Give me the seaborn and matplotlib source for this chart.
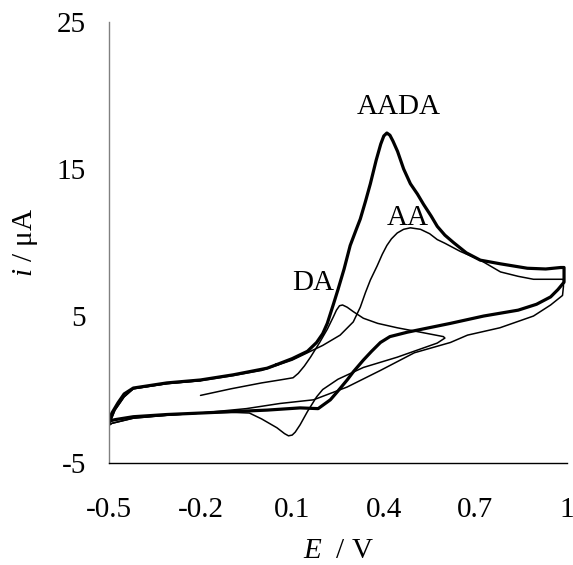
import matplotlib
matplotlib.use("Agg")
import matplotlib.pyplot as plt
import seaborn as sns
import pandas as pd

# ---- data ----
aada_E = [0.05, 0.10, 0.15, 0.18, 0.20, 0.215, 0.235, 0.25, 0.27, 0.29, 0.31, 0.323, 0.34, 0.356, 0.375,
          0.39, 0.40, 0.41, 0.42, 0.43, 0.445, 0.465, 0.487, 0.51, 0.53, 0.555, 0.575, 0.60, 0.628,
          0.67, 0.716, 0.782, 0.87, 0.93, 0.979, 0.99,
          0.99, 0.97, 0.946, 0.90, 0.84, 0.727, 0.618, 0.477, 0.42, 0.389, 0.36, 0.333, 0.30, 0.28,
          0.25, 0.225, 0.185, 0.126, 0.018,
          -0.093, -0.2, -0.31, -0.42, -0.48, -0.50, -0.49, -0.47, -0.45, -0.42, -0.31, -0.2, -0.093,
          0.018, 0.05]
aada_I = [1.7, 2.1, 2.6, 3.2, 3.8, 4.5, 5.8, 6.8, 8.2, 9.8, 10.9, 11.6, 12.8, 14.0, 15.6,
          16.7, 17.25, 17.45, 17.3, 16.9, 16.2, 15.0, 14.0, 13.3, 12.6, 11.8, 11.1, 10.5, 10.0,
          9.3, 8.8, 8.55, 8.25, 8.2, 8.3, 8.3,
          7.3, 6.8, 6.3, 5.8, 5.4, 5.0, 4.5, 3.9, 3.6, 3.2, 2.6, 2.0, 1.2, 0.65,
          -0.1, -0.7, -1.3, -1.25, -1.4,
          -1.5, -1.6, -1.7, -1.85, -2.05, -2.15, -1.6, -0.9, -0.3, 0.1, 0.45, 0.65, 1.0,
          1.45, 1.7]

aa_E = [0.0, 0.1, 0.15, 0.2, 0.257, 0.3, 0.323, 0.34, 0.356, 0.378, 0.395, 0.41, 0.425, 0.444, 0.465,
        0.487, 0.52, 0.55, 0.575, 0.60, 0.65, 0.716, 0.782, 0.84, 0.89, 0.95, 0.988,
        0.988, 0.985, 0.946, 0.89, 0.78, 0.674, 0.618, 0.5, 0.389, 0.28, 0.17, 0.06, -0.05,
        -0.2, -0.31, -0.42, -0.49, -0.50, -0.48, -0.45, -0.42, -0.31, -0.2, -0.093, 0.0]
aa_I = [1.3, 2.0, 2.5, 3.0, 3.7, 4.6, 5.6, 6.6, 7.45, 8.4, 9.2, 9.8, 10.25, 10.65, 10.9,
        11.0, 10.9, 10.6, 10.2, 9.95, 9.4, 8.8, 8.0, 7.7, 7.5, 7.5, 7.5,
        7.0, 6.4, 5.75, 5.0, 4.2, 3.7, 3.2, 2.5, 1.3, 0.17, -0.7, -0.95, -1.3,
        -1.6, -1.75, -1.95, -2.3, -2.4, -1.4, -0.5, 0.05, 0.4, 0.6, 0.95, 1.3]

da_E = [-0.2, -0.1, 0.0, 0.06, 0.103, 0.12, 0.14, 0.16, 0.19, 0.215, 0.235, 0.245, 0.255, 0.265, 0.28,
        0.30, 0.333, 0.38, 0.444, 0.52, 0.595,
        0.6, 0.575, 0.444, 0.333, 0.25, 0.2, 0.18, 0.15, 0.126, 0.11, 0.1, 0.088, 0.075, 0.05, 0.0,
        -0.04, -0.1, -0.2, -0.31, -0.42, -0.49, -0.50, -0.48, -0.45, -0.42, -0.31, -0.2]
da_I = [-0.4, 0.05, 0.45, 0.65, 0.8, 1.1, 1.6, 2.2, 3.2, 4.1, 4.95, 5.4, 5.7, 5.75, 5.6,
        5.3, 4.85, 4.5, 4.2, 3.9, 3.6,
        3.5, 3.16, 2.2, 1.5, 0.7, 0.0, -0.5, -1.5, -2.4, -2.9, -3.1, -3.15, -3.0, -2.6, -2.0,
        -1.6, -1.55, -1.6, -1.75, -1.95, -2.3, -2.45, -1.4, -0.5, 0.05, 0.4, 0.6]

x_ticks = [-0.5, -0.2, 0.1, 0.4, 0.7, 1.0]
x_tick_labels = ["-0.5", "-0.2", "0.1", "0.4", "0.7", "1"]
y_ticks = [-5, 5, 15, 25]
y_tick_labels = ["-5", "5", "15", "25"]

label_names = ["AADA", "AA", "DA"]
label_E = [0.45, 0.477, 0.17]
label_I = [19.2, 11.7, 7.25]

# ---- style ----
sns.set_style("white")
plt.rcParams["font.family"] = ["Liberation Serif", "DejaVu Serif"]
plt.rcParams["mathtext.fontset"] = "custom"
plt.rcParams["mathtext.rm"] = "Liberation Serif"
plt.rcParams["mathtext.it"] = "Liberation Serif:italic"
plt.rcParams["text.color"] = "black"
plt.rcParams["axes.labelcolor"] = "black"
plt.rcParams["xtick.color"] = "black"
plt.rcParams["ytick.color"] = "black"

FS = 21

fig = plt.figure(figsize=(5.73, 5.65), dpi=100)
ax = fig.add_axes([0.190, 0.1805, 0.7997, 0.7805])

def frame(E, I, name):
    return pd.DataFrame({"E": E, "i": I, "curve": name, "order": range(len(E))})

curves = [(frame(aada_E, aada_I, "AADA"), 2.3),
          (frame(aa_E, aa_I, "AA"), 1.1),
          (frame(da_E, da_I, "DA"), 1.1)]
for df, lw in curves:
    sns.lineplot(data=df, x="E", y="i", sort=False, estimator=None, color="black",
                 linewidth=lw, ax=ax, legend=False)
for line in ax.lines:
    line.set_solid_joinstyle("round")
    line.set_solid_capstyle("round")

for name, xe, yi in zip(label_names, label_E, label_I):
    ax.text(xe, yi, name, fontsize=FS, ha="center", va="center", color="black")

ax.set_xlim(-0.5, 1.0)
ax.set_ylim(-5, 25)
ax.set_xticks(x_ticks)
ax.set_xticklabels(x_tick_labels)
ax.set_yticks(y_ticks)
ax.set_yticklabels(y_tick_labels)
ax.tick_params(axis="x", direction="out", length=6.5, width=1, colors="black",
               labelsize=FS, pad=18)
ax.tick_params(axis="y", direction="out", length=6.5, width=1, color="#808080",
               labelcolor="black", labelsize=FS, pad=10)

for s in ["top", "right"]:
    ax.spines[s].set_visible(False)
ax.spines["left"].set_color("#808080")
ax.spines["left"].set_linewidth(1)
ax.spines["bottom"].set_color("black")
ax.spines["bottom"].set_linewidth(1)

ax.set_xlabel(r"$\mathit{E}$  / V", fontsize=FS, labelpad=11, color="black")
ax.set_ylabel(r"$\mathit{i}$ / μA", fontsize=FS, labelpad=12, color="black")

fig.savefig("out.png", dpi=100)
